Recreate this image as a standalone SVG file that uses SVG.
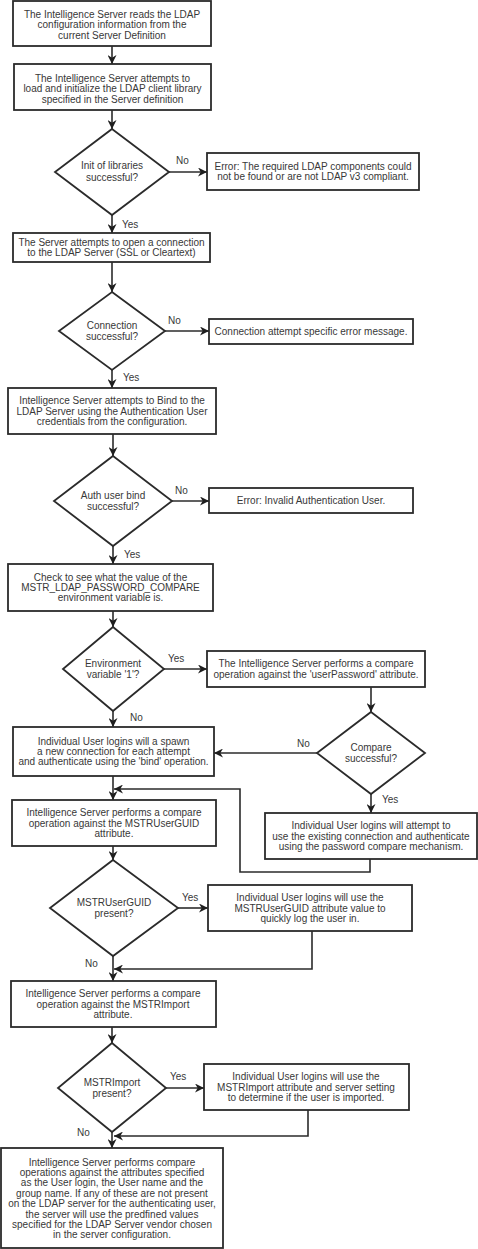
<svg xmlns="http://www.w3.org/2000/svg" width="478" height="1249" viewBox="0 0 478 1249">
<style>
.b{fill:#fff;stroke:#2b2b2b;stroke-width:1.8}
.t{font-family:"Liberation Sans",Arial,sans-serif;font-size:10px;fill:#383838;text-anchor:middle}
.l{font-family:"Liberation Sans",Arial,sans-serif;font-size:10px;fill:#383838}
.c{fill:none;stroke:#2b2b2b;stroke-width:1.6}
.a{marker-end:url(#ah)}
</style>
<defs>
<marker id="ah" viewBox="0 0 10 10" refX="10" refY="5" markerWidth="9" markerHeight="9" markerUnits="userSpaceOnUse" orient="auto">
<path d="M0,0 L10,5 L0,10 L3,5 z" fill="#1e1e1e"/>
</marker>
</defs>
<rect width="478" height="1249" fill="#fff"/>
<g id="connectors">
<path class="c a" d="M112,46 V64"/>
<path class="c a" d="M112,110 V129"/>
<path class="c a" d="M169,172 H207"/>
<path class="c a" d="M112,215 V233"/>
<path class="c a" d="M112,262 V292"/>
<path class="c a" d="M165,331 H209"/>
<path class="c a" d="M112,370 V388"/>
<path class="c a" d="M113,434 V456"/>
<path class="c a" d="M172,501 H209"/>
<path class="c a" d="M113,546 V564"/>
<path class="c a" d="M113,611 V627"/>
<path class="c a" d="M164,669 H207"/>
<path class="c a" d="M371,687 V712"/>
<path class="c a" d="M317,753 H214"/>
<path class="c a" d="M113,711 V727"/>
<path class="c a" d="M371,794 V813"/>
<path class="c a" d="M370,859 V872 H240 V789 H114"/>
<path class="c a" d="M113,776 V800"/>
<path class="c a" d="M113,846 V860"/>
<path class="c a" d="M178,908 H208"/>
<path class="c a" d="M312,931 V969 H114"/>
<path class="c a" d="M113,956 V981"/>
<path class="c a" d="M112,1027 V1043"/>
<path class="c a" d="M166,1088 H204"/>
<path class="c a" d="M308,1110 V1136 H114"/>
<path class="c a" d="M112,1132 V1148"/>
<text class="l" x="176" y="164">No</text>
<text class="l" x="122" y="228">Yes</text>
<text class="l" x="168" y="324">No</text>
<text class="l" x="123" y="381">Yes</text>
<text class="l" x="175" y="494">No</text>
<text class="l" x="124" y="558">Yes</text>
<text class="l" x="168" y="662">Yes</text>
<text class="l" x="130" y="721">No</text>
<text class="l" x="297" y="747">No</text>
<text class="l" x="382" y="803">Yes</text>
<text class="l" x="182" y="901">Yes</text>
<text class="l" x="85" y="967">No</text>
<text class="l" x="170" y="1080">Yes</text>
<text class="l" x="77" y="1136">No</text>
</g>
<g id="n1"><rect class="b" x="13" y="1" width="198" height="45"/>
<text class="t"><tspan x="112" y="17.5">The Intelligence Server reads the LDAP</tspan><tspan x="112" y="28">configuration information from the</tspan><tspan x="112" y="38.5">current Server Definition</tspan></text></g>
<g id="n2"><rect class="b" x="14" y="64" width="197" height="46"/>
<text class="t"><tspan x="112.5" y="81.5">The Intelligence Server attempts to</tspan><tspan x="112.5" y="92">load and initialize the LDAP client library</tspan><tspan x="112.5" y="102.5">specified in the Server definition</tspan></text></g>
<g id="d1"><polygon class="b" points="112,129 169,172 112,215 55,172"/>
<text class="t"><tspan x="112" y="169">Init of libraries</tspan><tspan x="112" y="180.5">successful?</tspan></text></g>
<g id="e1"><rect class="b" x="207" y="153" width="212" height="37"/>
<text class="t"><tspan x="313" y="169.5">Error: The required LDAP components could</tspan><tspan x="313" y="180">not be found or are not LDAP v3 compliant.</tspan></text></g>
<g id="n3"><rect class="b" x="13" y="233" width="197" height="29"/>
<text class="t"><tspan x="111.5" y="245.8">The Server attempts to open a connection</tspan><tspan x="111.5" y="256.2">to the LDAP Server (SSL or Cleartext)</tspan></text></g>
<g id="d2"><polygon class="b" points="112,292 165,331 112,370 59,331"/>
<text class="t"><tspan x="112" y="328.5">Connection</tspan><tspan x="112" y="339.5">successful?</tspan></text></g>
<g id="e2"><rect class="b" x="209" y="319" width="204" height="25"/>
<text class="t" x="311" y="335">Connection attempt specific error message.</text></g>
<g id="n4"><rect class="b" x="8" y="388" width="208" height="46"/>
<text class="t"><tspan x="112" y="404.1">Intelligence Server attempts to Bind to the</tspan><tspan x="112" y="414.5">LDAP Server using the Authentication User</tspan><tspan x="112" y="424.9">credentials from the configuration.</tspan></text></g>
<g id="d3"><polygon class="b" points="113,456 172,501 113,546 54,501"/>
<text class="t"><tspan x="113" y="498.5">Auth user bind</tspan><tspan x="113" y="509.5">successful?</tspan></text></g>
<g id="e3"><rect class="b" x="209" y="488" width="204" height="25"/>
<text class="t" x="311" y="504">Error: Invalid Authentication User.</text></g>
<g id="n5"><rect class="b" x="8" y="564" width="205" height="47"/>
<text class="t"><tspan x="110.5" y="580.6">Check to see what the value of the</tspan><tspan x="110.5" y="591">MSTR_LDAP_PASSWORD_COMPARE</tspan><tspan x="110.5" y="601.4">environment variable is.</tspan></text></g>
<g id="d4"><polygon class="b" points="113,627 164,669 113,711 63,669"/>
<text class="t"><tspan x="113" y="666.5">Environment</tspan><tspan x="113" y="677.5">variable '1'?</tspan></text></g>
<g id="n6"><rect class="b" x="207" y="651" width="218" height="36"/>
<text class="t"><tspan x="316" y="667">The Intelligence Server performs a compare</tspan><tspan x="316" y="677.5">operation against the 'userPassword' attribute.</tspan></text></g>
<g id="d5"><polygon class="b" points="371,712 425,753 371,794 317,753"/>
<text class="t"><tspan x="371" y="750.5">Compare</tspan><tspan x="371" y="761.5">successful?</tspan></text></g>
<g id="n7"><rect class="b" x="13" y="727" width="201" height="49"/>
<text class="t"><tspan x="113.5" y="744.6">Individual User logins will a spawn</tspan><tspan x="113.5" y="755">a new connection for each attempt</tspan><tspan x="113.5" y="765.4">and authenticate using the 'bind' operation.</tspan></text></g>
<g id="n8"><rect class="b" x="12" y="800" width="204" height="46"/>
<text class="t"><tspan x="114" y="816.1">Intelligence Server performs a compare</tspan><tspan x="114" y="826.5">operation against the MSTRUserGUID</tspan><tspan x="114" y="836.9">attribute.</tspan></text></g>
<g id="n9"><rect class="b" x="265" y="813" width="212" height="46"/>
<text class="t"><tspan x="371" y="829.1">Individual User logins will attempt to</tspan><tspan x="371" y="839.5">use the existing connection and authenticate</tspan><tspan x="371" y="849.9">using the password compare mechanism.</tspan></text></g>
<g id="d6"><polygon class="b" points="113,860 178,908 113,956 50,908"/>
<text class="t"><tspan x="114" y="905.5">MSTRUserGUID</tspan><tspan x="114" y="916.5">present?</tspan></text></g>
<g id="n10"><rect class="b" x="208" y="885" width="204" height="46"/>
<text class="t"><tspan x="310" y="901.1">Individual User logins will use the</tspan><tspan x="310" y="911.5">MSTRUserGUID attribute value to</tspan><tspan x="310" y="921.9">quickly log the user in.</tspan></text></g>
<g id="n11"><rect class="b" x="11" y="981" width="205" height="46"/>
<text class="t"><tspan x="113" y="997.1">Intelligence Server performs a compare</tspan><tspan x="113" y="1007.5">operation against the MSTRImport</tspan><tspan x="113" y="1017.9">attribute.</tspan></text></g>
<g id="d7"><polygon class="b" points="112,1043 166,1088 112,1132 58,1088"/>
<text class="t"><tspan x="112" y="1085.5">MSTRImport</tspan><tspan x="112" y="1096.5">present?</tspan></text></g>
<g id="n12"><rect class="b" x="204" y="1064" width="205" height="46"/>
<text class="t"><tspan x="306" y="1080.1">Individual User logins will use the</tspan><tspan x="306" y="1090.5">MSTRImport attribute and server setting</tspan><tspan x="306" y="1100.9">to determine if the user is imported.</tspan></text></g>
<g id="n13"><rect class="b" x="1" y="1148" width="222" height="100"/>
<text class="t"><tspan x="112" y="1165.5">Intelligence Server performs compare</tspan><tspan x="112" y="1175.9">operations against the attributes specified</tspan><tspan x="112" y="1186.3">as the User login, the User name and the</tspan><tspan x="112" y="1196.7">group name. If any of these are not present</tspan><tspan x="112" y="1207.1">on the LDAP server for the authenticating user,</tspan><tspan x="112" y="1217.5">the server will use the predfined values</tspan><tspan x="112" y="1227.9">specified for the LDAP Server vendor chosen</tspan><tspan x="112" y="1238.3">in the server configuration.</tspan></text></g>
</svg>
